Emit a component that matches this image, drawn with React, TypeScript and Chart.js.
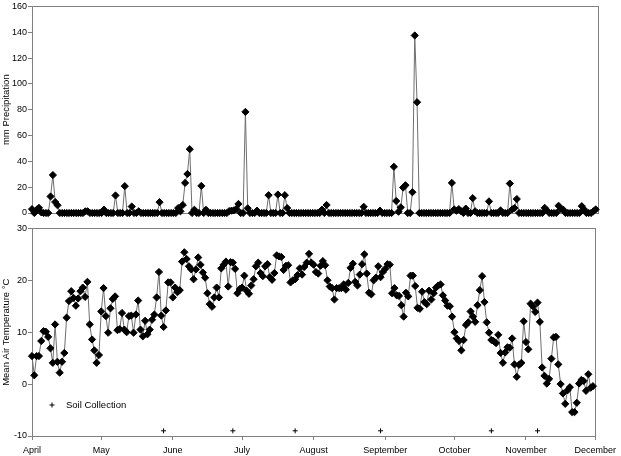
import { useEffect, useRef } from "react";
import { Chart, registerables } from "chart.js";

Chart.register(...registerables);

// ---------- data ----------
const monthLabels = ["April", "May", "June", "July", "August", "September", "October", "November", "December"];
const monthStartDays = [0, 30, 61, 91, 122, 153, 183, 214, 244];

// daily precipitation (mm), 1 April .. 30 November
const precipitation = [
  // April
  3, 0, 2.5, 4, 0.5, 0, 0, 0, 12.8, 29.4, 8.5, 6, 0, 0, 0, 0, 0, 0, 0, 0, 0, 0, 0, 1.3, 1.3, 0, 0, 0, 0, 0,
  // May
  0, 2.6, 0, 0, 0, 0, 13.6, 0, 0, 0, 20.8, 0, 0, 5, 0, 0, 1.3, 0, 0, 0, 0, 0, 0, 0, 0, 8.4, 0, 0, 0, 0, 0,
  // June
  0, 0, 3.8, 1.3, 6.2, 23.3, 30.2, 49.4, 0, 2.5, 0, 0, 21, 0, 2.5, 0, 0, 0, 0, 0, 0, 0, 0, 0, 1.5, 1.8, 2, 3, 7, 0,
  // July
  0, 78.3, 3.6, 0, 0, 0, 1.8, 0, 0, 0, 0, 13.8, 0, 0, 0, 14.3, 0, 0, 13.8, 3.8, 0, 0, 0, 0, 0, 0, 0, 0, 0, 0, 0,
  // August
  0, 0, 0, 2.6, 0, 6.2, 0, 0, 0, 0, 0, 0, 0, 0, 0, 0, 0, 0, 0, 0, 0, 4.8, 0, 0, 0, 0, 0, 0, 1.8, 0, 0,
  // September
  0, 0, 0, 35.8, 9.3, 1, 4.4, 19.7, 21.5, 0, 0, 16.1, 137.5, 85.8, 0, 0, 0, 0, 0, 0, 0, 0, 0, 0, 0, 0, 0, 0, 23.3, 2.8,
  // October
  1.8, 3, 1.3, 0, 3.4, 0, 0, 11.5, 1.3, 0, 0, 0, 0, 0, 9, 0, 0, 0, 0, 2, 0, 0, 0, 22.8, 2.8, 3.8, 10.8, 0, 0, 0, 0,
  // November
  0, 0, 0, 0, 0, 0, 0, 4, 2, 0, 0, 0, 0, 5.6, 3, 2.6, 0, 0, 0, 0, 0, 0, 0, 5.3, 2.8, 0, 0, 0, 1.3, 2.8,
];

// daily mean air temperature (°C), 1 April .. 30 November
const temperature = [
  // April
  5.4, 1.7, 5.4, 5.4, 8.3, 10.2, 10.1, 9.1, 6.9, 4.1, 11.5, 4.3, 2.2, 4.3, 6.0, 12.8, 16.0, 17.9, 16.6, 15.1,
  16.5, 17.9, 18.6, 16.8, 19.7, 11.5, 8.6, 6.5, 4.1, 5.6,
  // May
  14.0, 18.5, 13.1, 9.9, 14.6, 16.4, 16.9, 10.4, 10.6, 13.7, 10.5, 10.0, 13.1, 13.2, 9.9, 13.4, 16.1, 10.5, 9.2, 12.2,
  9.6, 10.5, 12.4, 13.4, 16.7, 21.6, 13.2, 11.0, 14.2, 19.6, 19.6,
  // June
  16.7, 18.6, 17.7, 18.1, 23.6, 25.4, 24.1, 22.7, 22.1, 20.2, 22.1, 24.4, 23.0, 21.5, 20.5, 17.5, 15.4, 14.9, 16.7, 18.6,
  16.7, 22.3, 23.0, 23.6, 18.8, 23.5, 23.4, 22.2, 17.5, 18.3,
  // July
  18.6, 20.9, 18.0, 17.4, 19.0, 20.2, 22.7, 23.4, 21.4, 20.8, 22.7, 23.1, 20.6, 20.1, 21.4, 24.8, 24.6, 24.5, 22.0, 22.8,
  22.9, 19.6, 20.0, 20.2, 21.0, 22.3, 21.1, 22.6, 23.4, 25.1, 23.4,
  // August
  23.0, 21.6, 21.3, 22.8, 23.7, 22.9, 20.0, 18.8, 18.5, 16.3, 18.5, 18.5, 18.5, 19.2, 18.2, 19.5, 22.4, 23.2, 19.7, 19.0,
  21.1, 23.1, 25.0, 21.3, 17.6, 17.3, 20.0, 20.5, 22.7, 20.6, 21.6,
  // September
  22.2, 23.1, 23.0, 17.5, 18.5, 17.1, 17.0, 15.2, 13.0, 17.6, 16.9, 20.9, 20.9, 18.9, 14.7, 14.5, 17.8, 15.8, 15.4, 18.0,
  16.3, 17.5, 18.6, 19.0, 19.2, 17.1, 16.1, 15.1, 15.0, 13.0,
  // October
  10.0, 8.8, 8.3, 6.5, 8.5, 11.4, 11.9, 14.0, 13.0, 12.0, 15.2, 18.1, 20.8, 15.8, 11.9, 9.9, 8.5, 8.3, 7.9, 9.5,
  6.0, 4.1, 6.1, 7.1, 7.0, 8.8, 3.8, 1.4, 3.7, 4.1, 12.1,
  // November
  8.1, 6.7, 15.5, 15.0, 13.9, 15.7, 12.0, 3.2, 1.6, 0.1, 1.0, 4.9, 9.0, 9.1, 3.8, 0.0, -1.8, -3.8, -1.2, -0.6,
  -5.4, -5.4, -3.6, 0.1, 0.8, 0.6, -1.3, 1.9, -0.7, -0.4,
];

const soilCollectionDays = [57, 87, 114, 151, 199, 219];
const soilCollectionLevel = -9;
const soilCollectionLabel = "Soil Collection";

// ---------- styling ----------
const FONT_FAMILY = "'Liberation Sans', Arial, sans-serif";
const tickFont = { family: FONT_FAMILY, size: 9 };
const titleFont = { family: FONT_FAMILY, size: 9.5 };
const AXIS_GRAY = "#808080";
const LINE_GRAY = "#6e6e6e";

const boxPlugin = {
  id: "plotBox",
  beforeDatasetsDraw(chart: any) {
    const { ctx, chartArea: a } = chart;
    ctx.save();
    ctx.strokeStyle = AXIS_GRAY;
    ctx.lineWidth = 1;
    ctx.strokeRect(Math.round(a.left) + 0.5, Math.round(a.top) + 0.5, Math.round(a.right - a.left), Math.round(a.bottom - a.top));
    ctx.restore();
  },
};

const legendPlugin = {
  id: "soilLegend",
  afterDraw(chart: any) {
    const { ctx, chartArea: a } = chart;
    const x = a.left + 20;
    const y = a.bottom - 31;
    ctx.save();
    ctx.strokeStyle = "#000";
    ctx.lineWidth = 1;
    ctx.beginPath();
    ctx.moveTo(x - 2.5, y);
    ctx.lineTo(x + 2.5, y);
    ctx.moveTo(x, y - 2.5);
    ctx.lineTo(x, y + 2.5);
    ctx.stroke();
    ctx.fillStyle = "#000";
    ctx.font = `${titleFont.size}px ${FONT_FAMILY}`;
    ctx.textBaseline = "middle";
    ctx.textAlign = "left";
    ctx.fillText(soilCollectionLabel, x + 14, y);
    ctx.restore();
  },
};

function yAxis(min: number, max: number, step: number, title: string) {
  return {
    min,
    max,
    ticks: { stepSize: step, font: tickFont, color: "#000", padding: 1 },
    grid: { display: true, drawOnChartArea: false, drawTicks: true, tickLength: 4, color: AXIS_GRAY },
    border: { display: false },
    title: { display: true, text: title, font: titleFont, color: "#000", padding: { top: 1, bottom: 0 } },
    afterFit: (s: any) => {
      s.width = 32;
    },
  };
}

const markerStyle = {
  borderColor: LINE_GRAY,
  borderWidth: 1,
  pointStyle: "rectRot",
  pointRadius: 3.6,
  pointBackgroundColor: "#000",
  pointBorderColor: "#000",
  pointBorderWidth: 1,
  clip: false,
};

export default function App() {
  const topRef = useRef<HTMLCanvasElement>(null);
  const bottomRef = useRef<HTMLCanvasElement>(null);

  useEffect(() => {
    const top = new Chart(topRef.current as HTMLCanvasElement, {
      type: "line",
      data: {
        datasets: [
          {
            label: "mm Precipitation",
            data: precipitation.map((v, i) => ({ x: i, y: v })),
            ...markerStyle,
          } as any,
        ],
      },
      options: {
        responsive: false,
        animation: false,
        events: [],
        layout: { padding: { top: 5, right: 23, bottom: 9, left: 0 } },
        plugins: { legend: { display: false }, tooltip: { enabled: false } },
        scales: {
          x: { type: "linear", min: 0, max: 244, display: false },
          y: yAxis(0, 160, 20, "mm Precipitation") as any,
        },
      },
      plugins: [boxPlugin],
    });

    const bottom = new Chart(bottomRef.current as HTMLCanvasElement, {
      type: "line",
      data: {
        datasets: [
          {
            label: "Mean Air Temperature",
            data: temperature.map((v, i) => ({ x: i, y: v })),
            ...markerStyle,
          } as any,
          {
            label: soilCollectionLabel,
            data: soilCollectionDays.map((d) => ({ x: d, y: soilCollectionLevel })),
            showLine: false,
            pointStyle: "cross",
            pointRadius: 2.5,
            pointBorderColor: "#000",
            pointBorderWidth: 1,
            borderColor: "#000",
            clip: false,
          } as any,
        ],
      },
      options: {
        responsive: false,
        animation: false,
        events: [],
        layout: { padding: { top: 6, right: 23, bottom: 0, left: 0 } },
        plugins: { legend: { display: false }, tooltip: { enabled: false } },
        scales: {
          x: {
            type: "linear",
            min: 0,
            max: 244,
            afterBuildTicks: (s: any) => {
              s.ticks = monthStartDays.map((v) => ({ value: v }));
            },
            ticks: {
              autoSkip: false,
              maxRotation: 0,
              font: tickFont,
              color: "#000",
              padding: 5,
              callback: (v: any) => monthLabels[monthStartDays.indexOf(Number(v))] ?? "",
            },
            grid: { display: true, drawOnChartArea: false, drawTicks: true, tickLength: 4, color: AXIS_GRAY },
            border: { display: false },
            afterFit: (s: any) => {
              s.height = 20;
            },
          } as any,
          y: yAxis(-10, 30, 10, "Mean Air Temperature °C") as any,
        },
      },
      plugins: [boxPlugin, legendPlugin],
    });

    return () => {
      top.destroy();
      bottom.destroy();
    };
  }, []);

  return (
    <div style={{ position: "absolute", left: 0, top: 0, width: 621, height: 456, background: "#fff" }}>
      <canvas ref={topRef} width={621} height={222} style={{ position: "absolute", left: 0, top: 0, display: "block" }} />
      <canvas ref={bottomRef} width={621} height={234} style={{ position: "absolute", left: 0, top: 222, display: "block" }} />
    </div>
  );
}
